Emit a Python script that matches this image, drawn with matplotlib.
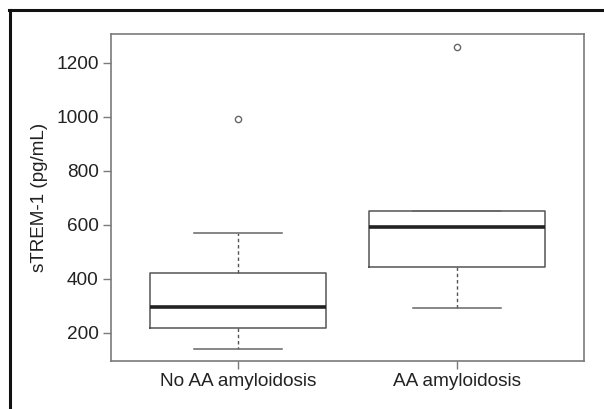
import numpy as np
import matplotlib.pyplot as plt
from matplotlib.lines import Line2D

plt.rcParams['font.family'] = ['Liberation Sans', 'DejaVu Sans']

groups = ['No AA amyloidosis', 'AA amyloidosis']
whisker_low = [141, 293]
q1 = [219, 442]
median = [297, 591]
q3 = [422, 651]
whisker_high = [570, 651]
outliers = [[992], [1260]]

stats = []
for i, name in enumerate(groups):
    stats.append(dict(label=name, whislo=whisker_low[i], q1=q1[i], med=median[i],
                      q3=q3[i], whishi=whisker_high[i], fliers=outliers[i]))

fig = plt.figure(figsize=(6.04, 4.09), dpi=100)
ax = fig.add_axes([111 / 604, 1 - 361 / 409, 473 / 604, 327 / 409])

grey = '#7a7a7a'
ax.bxp(stats, positions=[1, 2], widths=0.8, patch_artist=False,
       boxprops=dict(color='#555555', linewidth=1.1),
       medianprops=dict(color='#222222', linewidth=2.6, solid_capstyle='butt'),
       whiskerprops=dict(color='#555555', linewidth=1.0, linestyle=(0, (2.5, 2))),
       capprops=dict(color='#666666', linewidth=1.1),
       flierprops=dict(marker='o', markersize=4.5, markerfacecolor='none',
                       markeredgecolor='#666666', markeredgewidth=1.0),
       capwidths=0.4)

ax.set_xlim(0.42, 2.58)
ax.set_ylim(95, 1307)
ax.set_yticks([200, 400, 600, 800, 1000, 1200])
ax.set_xticks([1, 2])
ax.set_xticklabels(groups)
ax.set_ylabel('sTREM-1 (pg/mL)', fontsize=13.6, color='#222222', labelpad=6)

for s in ax.spines.values():
    s.set_color(grey)
    s.set_linewidth(1.2)
ax.tick_params(axis='both', colors=grey, length=6, width=1.0, labelsize=13.7,
               labelcolor='#222222', pad=3)

# outer frame (left and top edges only)
fig.add_artist(Line2D([10 / 604, 10 / 604], [0, 1 - 10 / 409], color='#111111',
                      linewidth=2.2, transform=fig.transFigure))
fig.add_artist(Line2D([9 / 604, 1], [1 - 10 / 409, 1 - 10 / 409], color='#111111',
                      linewidth=2.2, transform=fig.transFigure))

fig.savefig('out.png', dpi=100)
